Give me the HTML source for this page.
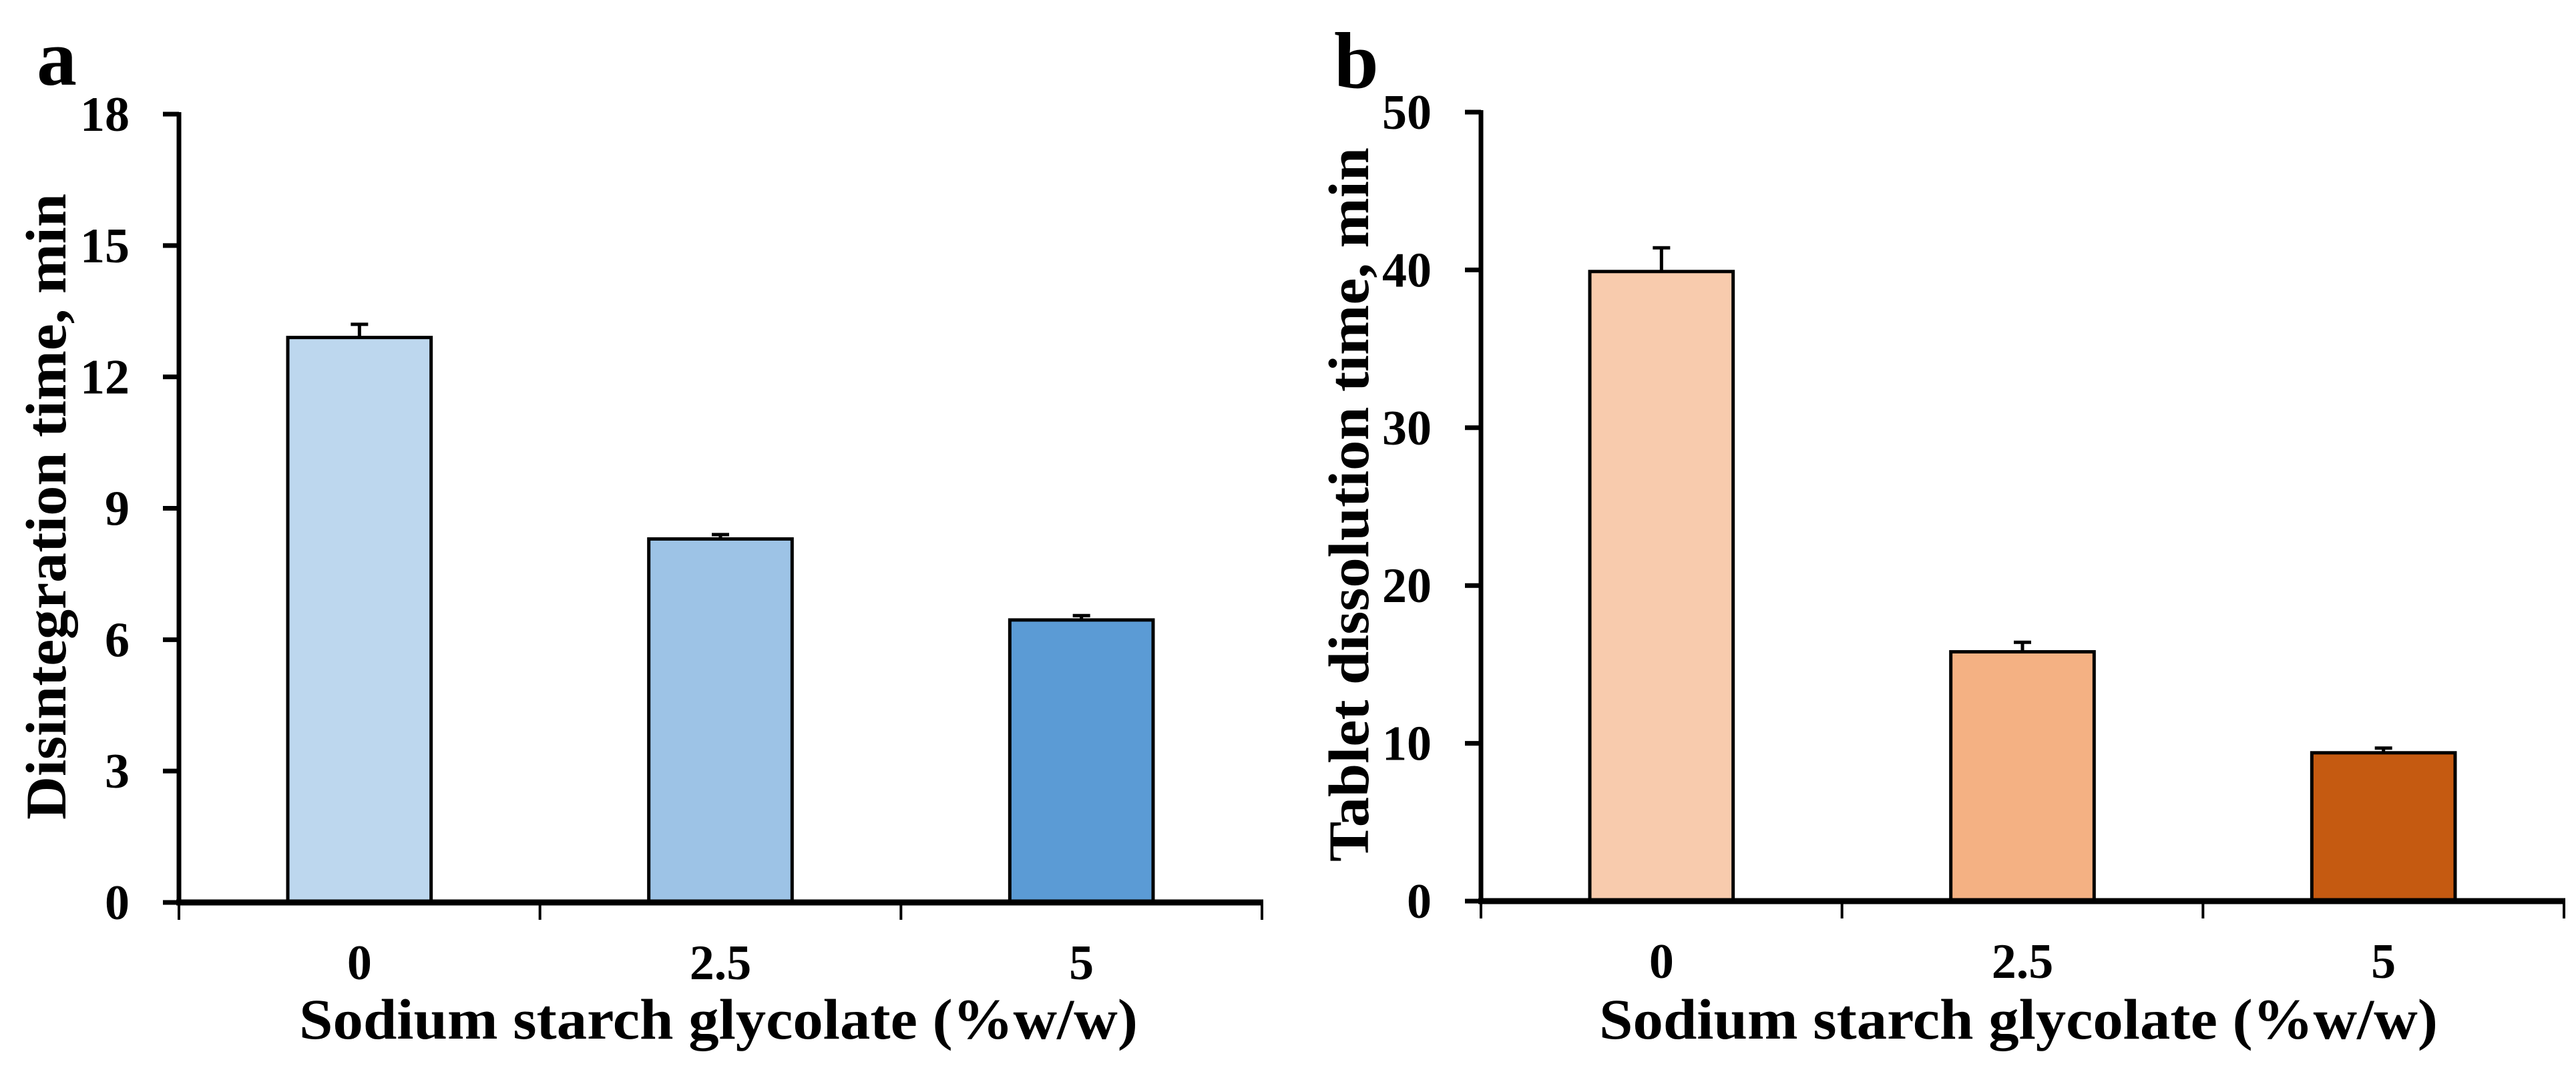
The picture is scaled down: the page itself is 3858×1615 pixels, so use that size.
<!DOCTYPE html>
<html><head><meta charset="utf-8"><style>
html,body{margin:0;padding:0;background:#fff;}
svg{display:block;}
text{font-family:"Liberation Serif",serif;font-weight:bold;fill:#000;}
</style></head><body>
<svg id="fig" width="3858" height="1615" viewBox="0 0 3858 1615" xmlns="http://www.w3.org/2000/svg">
<rect width="3858" height="1615" fill="#fff"/>
</svg>
<script>
const categories = ["0", "2.5", "5"];
const valuesA = [12.9, 8.3, 6.45];
const errorsA = [0.3, 0.1, 0.1];
const ticksA = [0, 3, 6, 9, 12, 15, 18];
const valuesB = [39.9, 15.8, 9.4];
const errorsB = [1.5, 0.6, 0.3];
const ticksB = [0, 10, 20, 30, 40, 50];
const colorsA = ["#BDD7EE", "#9DC3E6", "#5B9BD5"];
const colorsB = ["#F8CBAD", "#F4B183", "#C55A11"];

const NS = "http://www.w3.org/2000/svg";
const svg = document.getElementById("fig");
function mk(tag, attrs, parent) {
  const e = document.createElementNS(NS, tag);
  for (const k in attrs) e.setAttribute(k, attrs[k]);
  (parent || svg).appendChild(e);
  return e;
}

function drawPanel(p) {
  const g = mk("g", {});
  
  
  const yMax = p.ticks[p.ticks.length - 1];
  const yScale = v => p.y0 - (v / yMax) * (p.y0 - p.yTop);
  const catW = (p.x1 - p.x0) / p.cats.length;
  const xCenter = i => p.x0 + catW * (i + 0.5);
  const barW = catW * 0.397;

  // bars
  p.vals.forEach((v, i) => {
    const r = mk("rect", {x: xCenter(i) - barW / 2, y: yScale(v), width: barW, height: p.y0 - yScale(v), fill: p.colors[i], stroke: "#000", "stroke-width": 5}, g);
    
    
    const ey = yScale(v + p.errs[i]);
    const eb = mk("path", {d: `M${xCenter(i)} ${yScale(v)} V${ey} M${xCenter(i) - 13} ${ey} H${xCenter(i) + 13}`, stroke: "#000", "stroke-width": 5, fill: "none"}, g);
    
    
  });

  // y axis
  const ya = mk("line", {x1: p.x0, y1: p.yTop - 3, x2: p.x0, y2: p.y0 + 4, stroke: "#000", "stroke-width": 7}, g);
  
  
  p.ticks.forEach(t => {
    const y = yScale(t);
    const tk = mk("line", {x1: p.x0 - 24, y1: y, x2: p.x0, y2: y, stroke: "#000", "stroke-width": 7}, g);
    
    
    const tl = mk("text", {x: p.x0 - 74, y: y + 25, "font-size": 74, "text-anchor": "end"}, g);
    tl.textContent = t;
    
    
  });

  // x axis
  const xa = mk("line", {x1: p.x0 - 4, y1: p.y0, x2: p.x1 + 2, y2: p.y0, stroke: "#000", "stroke-width": 9}, g);
  
  
  for (let i = 0; i <= p.cats.length; i++) {
    const x = p.x0 + catW * i;
    const tk = mk("line", {x1: x, y1: p.y0, x2: x, y2: p.y0 + 26, stroke: "#000", "stroke-width": 4}, g);
    
    
  }
  p.cats.forEach((c, i) => {
    const tl = mk("text", {x: xCenter(i), y: p.y0 + 115, "font-size": 74, "text-anchor": "middle"}, g);
    tl.textContent = c;
    
    
  });

  const xt = mk("text", {x: p.xtCenter, y: 1556, "font-size": 86, "text-anchor": "middle", textLength: 1256, lengthAdjust: "spacingAndGlyphs"}, g);
  xt.textContent = "Sodium starch glycolate (%w/w)";
  
  

  const yt = mk("text", {x: 0, y: 0, "font-size": 86, "text-anchor": "middle", textLength: p.ytLen, lengthAdjust: "spacingAndGlyphs", transform: `translate(${p.ytX},${p.ytY}) rotate(-90)`}, g);
  yt.textContent = p.ytitle;
  
  

  const pl = mk("text", {x: p.lblX, y: p.lblY, "font-size": 120}, g);
  pl.textContent = p.label;
  
  
}

drawPanel({name: "panel-a", cats: categories, vals: valuesA, errs: errorsA, ticks: ticksA, colors: colorsA,
  x0: 268, x1: 1890, y0: 1352, yTop: 171, xtCenter: 1076, ytitle: "Disintegration time, min",
  ytX: 98, ytY: 759, ytLen: 938, label: "a", lblX: 55, lblY: 127});
drawPanel({name: "panel-b", cats: categories, vals: valuesB, errs: errorsB, ticks: ticksB, colors: colorsB,
  x0: 2218, x1: 3840, y0: 1350, yTop: 168, xtCenter: 3023, ytitle: "Tablet dissolution time, min",
  ytX: 2049, ytY: 756, ytLen: 1070, label: "b", lblX: 1998, lblY: 131});
</script>
</body></html>
